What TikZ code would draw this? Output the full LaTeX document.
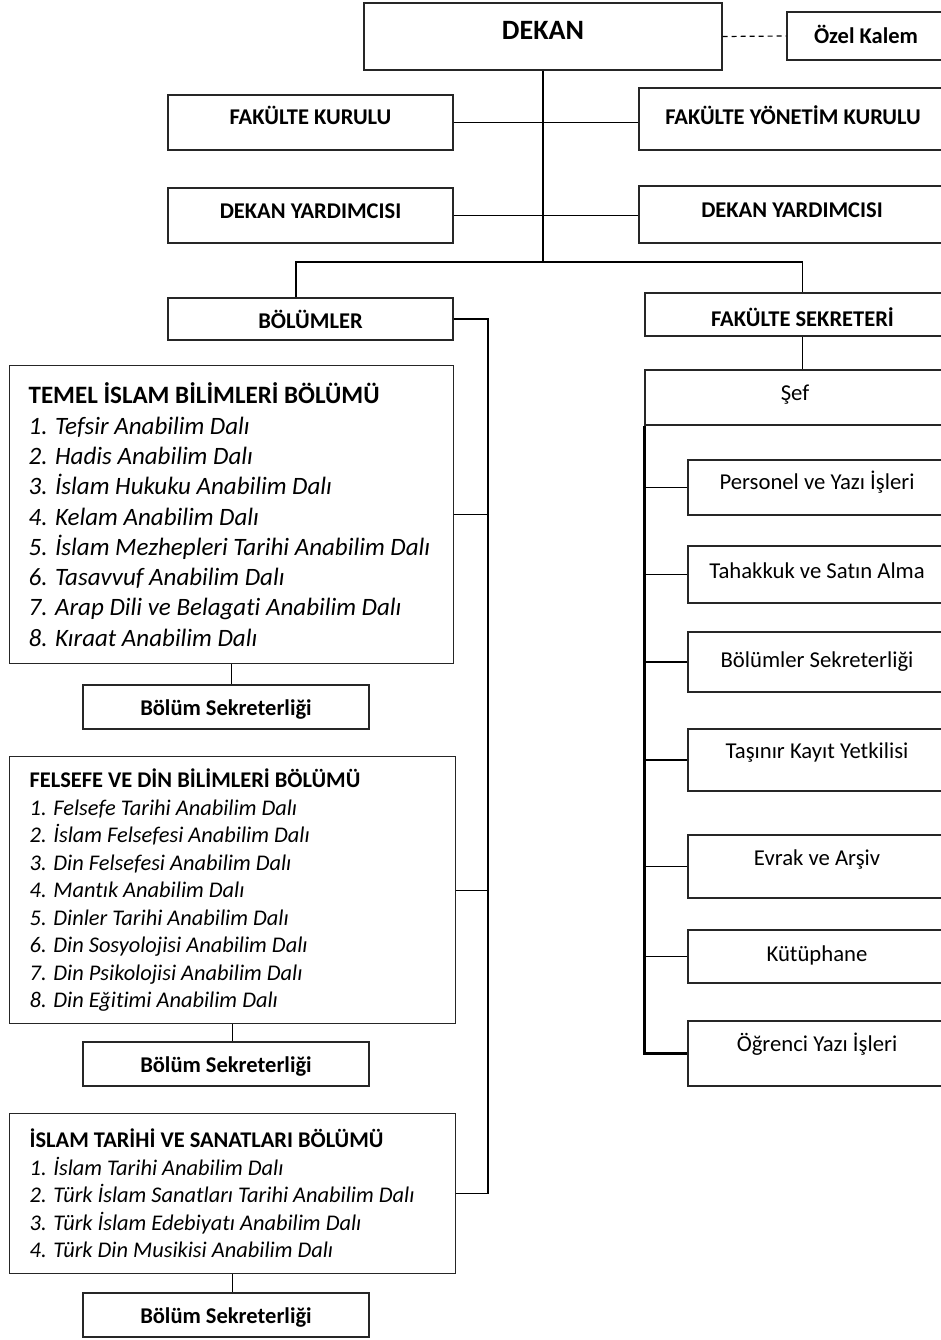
\documentclass[tikz,border=0pt]{standalone}
\usepackage{fontspec}
\setmainfont{Carlito}[Ligatures=NoCommon]
\usetikzlibrary{positioning}

\begin{document}
\begin{tikzpicture}[
    x=1pt, y=-1pt,
    bx/.style={draw=black!85, line width=1.3pt, fill=white, align=center, text height=15pt, text depth=4pt, font=\fontsize{22.5}{26}\selectfont\bfseries},
    lift/.style={text depth=#1},
    sink/.style={text height=#1, text depth=0pt},
    unit/.style={bx, font=\fontsize{22.7}{26}\selectfont, minimum width=258pt},
    dept/.style={draw=black!85, line width=1.3pt, fill=white, align=flush left, anchor=north west, inner xsep=19pt, text width=406pt},
    ln/.style={line width=1.2pt},
    thk/.style={line width=2.7pt}
]
\useasboundingbox (0,0) rectangle (940,1340);

% top of the chart
\node[bx, minimum width=358pt, minimum height=67pt, lift=8pt, font=\fontsize{28}{30}\selectfont\bfseries] (dekan) at (543,36.5) {DEKAN};
\node[bx, minimum width=158pt, minimum height=48pt, sink=16pt] (ozel) at (866,36) {Özel Kalem};
\node[bx, minimum width=285pt, minimum height=55pt, lift=10pt] (fk) at (310.5,122.5) {FAKÜLTE KURULU};
\node[bx, minimum width=308pt, minimum height=62pt, lift=3pt] (fyk) at (793,119) {FAKÜLTE YÖNETİM KURULU};
\node[bx, minimum width=285pt, minimum height=55pt, lift=8pt] (dy1) at (310.5,215.5) {DEKAN YARDIMCISI};
\node[bx, minimum width=306pt, minimum height=57pt, lift=8pt] (dy2) at (792,214.5) {DEKAN YARDIMCISI};
\node[bx, minimum width=285pt, minimum height=42pt, sink=19pt] (bolum) at (310.5,319) {BÖLÜMLER};
\node[bx, minimum width=315pt, minimum height=43pt, sink=24pt] (fsek) at (802.5,314.5) {FAKÜLTE SEKRETERİ};
\coordinate (split) at (543,262);
\coordinate (bus) at (488,0);

% departments
\node[dept, minimum width=444pt, minimum height=298pt, font=\fontsize{25}{30.3}\selectfont] (temel) at (9,365) {%
\textbf{TEMEL İSLAM BİLİMLERİ BÖLÜMÜ}\\
\textit{1. Tefsir Anabilim Dalı}\\
\textit{2. Hadis Anabilim Dalı}\\
\textit{3. İslam Hukuku Anabilim Dalı}\\
\textit{4. Kelam Anabilim Dalı}\\
\textit{5. İslam Mezhepleri Tarihi Anabilim Dalı}\\
\textit{6. Tasavvuf Anabilim Dalı}\\
\textit{7. Arap Dili ve Belagati Anabilim Dalı}\\
\textit{8. Kıraat Anabilim Dalı}};
\node[bx, minimum width=286pt, minimum height=44pt, sink=17pt] (bs1) at (226,707) {Bölüm Sekreterliği};

\node[dept, minimum width=446pt, minimum height=267pt, font=\fontsize{22.4}{27.5}\selectfont] (felsefe) at (9,756) {%
\textbf{FELSEFE VE DİN BİLİMLERİ BÖLÜMÜ}\\
\textit{1. Felsefe Tarihi Anabilim Dalı}\\
\textit{2. İslam Felsefesi Anabilim Dalı}\\
\textit{3. Din Felsefesi Anabilim Dalı}\\
\textit{4. Mantık Anabilim Dalı}\\
\textit{5. Dinler Tarihi Anabilim Dalı}\\
\textit{6. Din Sosyolojisi Anabilim Dalı}\\
\textit{7. Din Psikolojisi Anabilim Dalı}\\
\textit{8. Din Eğitimi Anabilim Dalı}};
\node[bx, minimum width=286pt, minimum height=44pt, sink=17pt] (bs2) at (226,1064) {Bölüm Sekreterliği};

\node[dept, minimum width=446pt, minimum height=160pt, font=\fontsize{22.4}{27.5}\selectfont] (islam) at (9,1113) {%
\textbf{İSLAM TARİHİ VE SANATLARI BÖLÜMÜ}\\
\textit{1. İslam Tarihi Anabilim Dalı}\\
\textit{2. Türk İslam Sanatları Tarihi Anabilim Dalı}\\
\textit{3. Türk İslam Edebiyatı Anabilim Dalı}\\
\textit{4. Türk Din Musikisi Anabilim Dalı}};
\node[bx, minimum width=286pt, minimum height=44pt, sink=17pt] (bs3) at (226,1315) {Bölüm Sekreterliği};

% secretary units
\node[unit, minimum width=300pt, minimum height=55pt, lift=10pt] (sef) at (795,397.5) {Şef};
\node[unit, minimum height=55pt, lift=12pt] (pers) at (817,487.5) {Personel ve Yazı İşleri};
\node[unit, minimum height=57pt, lift=8pt] (tah) at (817,574.5) {Tahakkuk ve Satın Alma};
\node[unit, minimum height=60pt, lift=5pt] (bsek) at (817,662) {Bölümler Sekreterliği};
\node[unit, minimum height=62pt, lift=19pt] (tas) at (817,760) {Taşınır Kayıt Yetkilisi};
\node[unit, minimum height=63pt, lift=18pt] (evr) at (817,866.5) {Evrak ve Arşiv};
\node[unit, minimum height=53pt, lift=6pt] (kut) at (817,956.5) {Kütüphane};
\node[unit, minimum height=65pt, lift=20pt] (ogr) at (817,1053.5) {Öğrenci Yazı İşleri};

% connectors
\draw[ln, dash pattern=on 5pt off 4pt] (dekan.east) -- (ozel.west);
\draw[thk] (dekan.south) -- (split);
\draw[ln] (fk.east) -- (fk.east -| fyk.west);
\draw[ln] (dy1.east) -- (dy1.east -| dy2.west);
\draw[thk] (split) -| ([xshift=-14.5pt]bolum.north);
\draw[ln] (split) -| (fsek.north);
\draw[ln] (bolum.east) -| (bus |- islam.east) -- (islam.east);
\draw[ln] (temel.east) -- (temel.east -| bus);
\draw[ln] (felsefe.east) -- (felsefe.east -| bus);
\draw[ln] (temel.south) -- (temel.south |- bs1.north);
\draw[ln] (felsefe.south) -- (felsefe.south |- bs2.north);
\draw[ln] (islam.south) -- (islam.south |- bs3.north);
\draw[ln] (fsek.south) -- (fsek.south |- sef.north);
\draw[thk] (sef.south west) |- (ogr.west);
\foreach \u in {pers,tah,bsek,tas,evr,kut}
  \draw[ln] (\u.west) -- (\u.west -| sef.west);
\end{tikzpicture}
\end{document}
